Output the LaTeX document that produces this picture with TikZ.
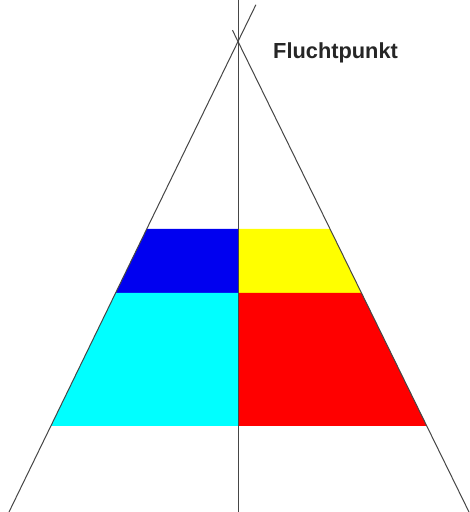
\documentclass[tikz,border=0pt]{standalone}
\usepackage{fontspec}
\setmainfont{Liberation Sans}
\usetikzlibrary{calc}
\definecolor{linegray}{RGB}{70,70,70}
\definecolor{myblue}{RGB}{0,0,240}
\definecolor{myyellow}{RGB}{255,255,0}
\definecolor{mycyan}{RGB}{0,255,255}
\definecolor{myred}{RGB}{255,0,0}
\tikzset{
  guide/.style={draw=linegray, line width=1pt},
  label/.style={font=\fontsize{21.8}{24}\selectfont\bfseries, inner sep=0pt, anchor=base west, text=black!85}
}
\begin{document}
\begin{tikzpicture}[x=1pt, y=-1pt]
\useasboundingbox (0,0) rectangle (470,512);
\fill[white] (0,0) rectangle (470,512);
% vanishing point and guide ends
\coordinate (vp) at (238,41.5);
\coordinate (bl) at (9,512);
\coordinate (br) at (469,512);
\coordinate (vtop) at (238,0);
\coordinate (vbot) at (238,512);
\coordinate (ltop) at ($(bl)!1.078!(vp)$);
\coordinate (rtop) at ($(br)!1.024!(vp)$);
% rows
\coordinate (a1) at ($(vp)!0.3985!(bl)$);
\coordinate (b1) at ($(vp)!0.3985!(br)$);
\coordinate (m1) at (vp |- a1);
\coordinate (a2) at ($(vp)!0.5345!(bl)$);
\coordinate (b2) at ($(vp)!0.5345!(br)$);
\coordinate (m2) at (vp |- a2);
\coordinate (a3) at ($(vp)!0.8172!(bl)$);
\coordinate (b3) at ($(vp)!0.8172!(br)$);
\coordinate (m3) at (vp |- a3);
% tiles
\fill[myblue] (a1) -- (m1) -- (m2) -- (a2) -- cycle;
\fill[myyellow] (m1) -- (b1) -- (b2) -- (m2) -- cycle;
\fill[mycyan] (a2) -- (m2) -- (m3) -- (a3) -- cycle;
\fill[myred] (m2) -- (b2) -- (b3) -- (m3) -- cycle;
% guide lines
\draw[guide] (vtop) -- (vbot);
\draw[guide] (bl) -- (ltop);
\draw[guide] (br) -- (rtop);
% label
\node[label] (fp) at (273,58.3) {Fluchtpunkt};
\end{tikzpicture}
\end{document}
